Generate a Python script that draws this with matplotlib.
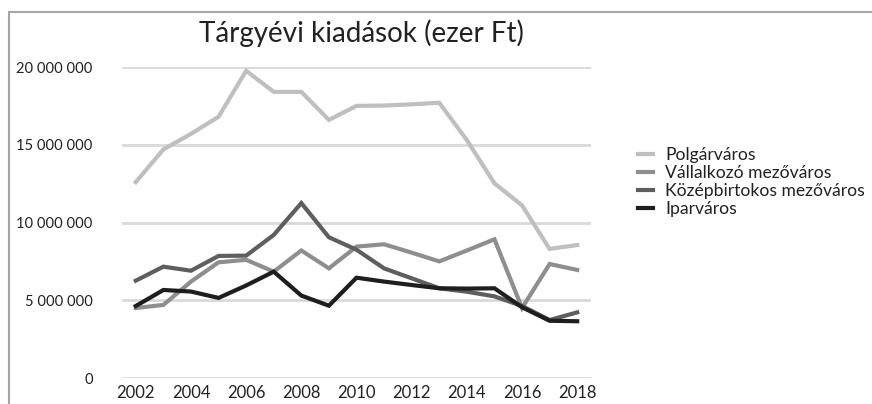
import matplotlib
matplotlib.use('Agg')
import matplotlib.pyplot as plt
from matplotlib.ticker import FuncFormatter
from matplotlib.patches import Rectangle

plt.rcParams['font.family'] = ['Lato', 'DejaVu Sans']

years = list(range(2002, 2019))
polgar = [12.6, 14.7, 15.7, 16.8, 19.76, 18.4, 18.4, 16.6, 17.5, 17.52, 17.6, 17.7,
          15.3, 12.52, 11.1, 8.3, 8.55]
vallalkozo = [4.5, 4.7, 6.2, 7.44, 7.6, 6.84, 8.2, 7.05, 8.45, 8.6, 8.06, 7.5,
              8.2, 8.92, 4.5, 7.33, 6.95]
kozepbirtokos = [6.26, 7.16, 6.9, 7.85, 7.87, 9.2, 11.25, 9.05, 8.25, 7.05, 6.41, 5.77,
                 5.55, 5.25, 4.63, 3.73, 4.22]
iparvaros = [4.63, 5.66, 5.56, 5.15, 5.95, 6.84, 5.3, 4.65, 6.45, 6.2, 5.98, 5.77,
             5.75, 5.77, 4.55, 3.68, 3.65]

series = [
    ('Polgárváros', polgar, '#bfbfbf'),
    ('Vállalkozó mezőváros', vallalkozo, '#8e8e8e'),
    ('Középbirtokos mezőváros', kozepbirtokos, '#5e5e5e'),
    ('Iparváros', iparvaros, '#1e1e1e'),
]

fig = plt.figure(figsize=(8.72, 4.04), dpi=100)
ax = fig.add_axes([122/872, 1 - 378/404, (591-122)/872, (378-67)/404])

for name, vals, col in series:
    ax.plot(years, [v * 1e6 for v in vals], color=col, lw=3.0, label=name,
            solid_joinstyle='miter')

ax.set_xlim(2001.5, 2018.5)
ax.set_ylim(0, 20e6)
ax.set_yticks([0, 5e6, 10e6, 15e6, 20e6])
ax.set_xticks(list(range(2002, 2019, 2)))
ax.yaxis.set_major_formatter(FuncFormatter(lambda v, p: f'{int(v):,}'.replace(',', ' ')))
ax.grid(axis='y', color='#d9d9d9', lw=2)
ax.set_axisbelow(True)
for s in ax.spines.values():
    s.set_visible(False)
ax.tick_params(length=0, labelsize=12, colors='#222222')
ax.tick_params(axis='y', pad=21, labelsize=10.6)
ax.tick_params(axis='x', pad=5)

fig.text(0.415, 1 - 33/404, 'Tárgyévi kiadások (ezer Ft)', ha='center', va='center',
         fontsize=20, color='#222222')

leg = fig.legend(loc='upper left', bbox_to_anchor=(622/872, 1 - 131/404), frameon=False,
                 fontsize=12.6, handlelength=0.85, handletextpad=0.7, labelspacing=0.12,
                 labelcolor='#222222')

# chart border
fig.add_artist(Rectangle((8.5/872, -0.1), 1.0, (404 - 12)/404 + 0.1, transform=fig.transFigure,
                         fill=False, edgecolor='#a6a6a6', lw=1.5))

fig.savefig('out.png', dpi=100)
